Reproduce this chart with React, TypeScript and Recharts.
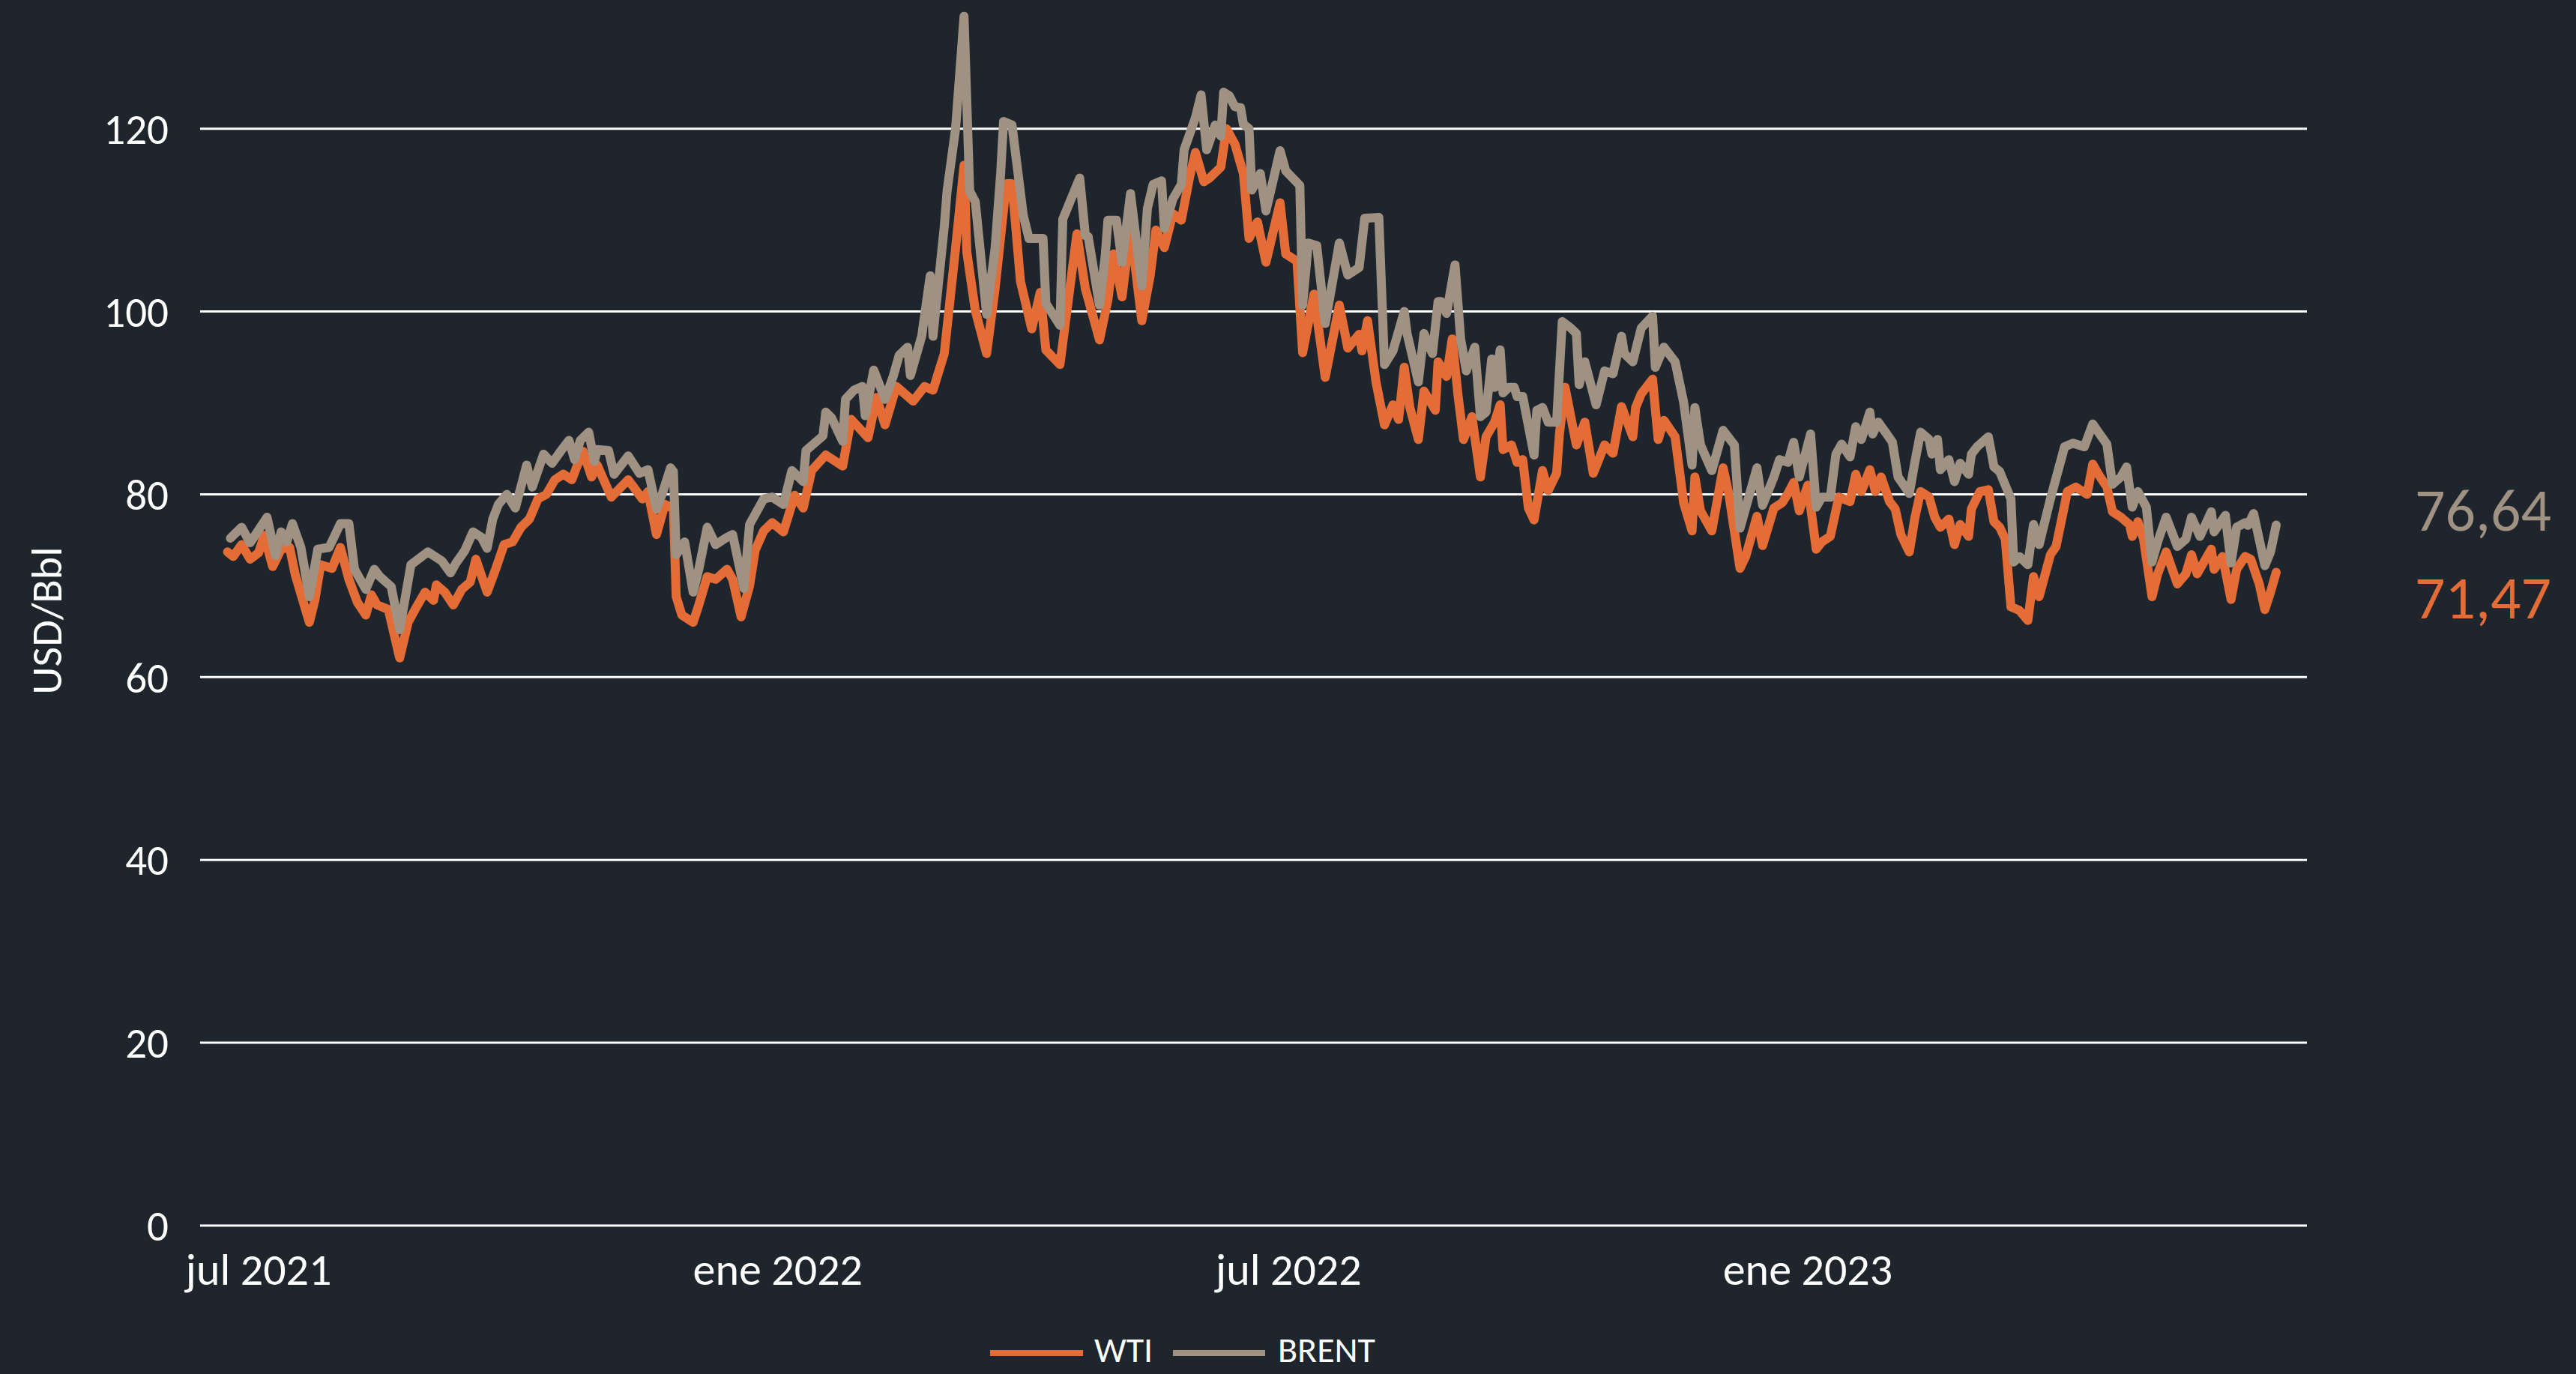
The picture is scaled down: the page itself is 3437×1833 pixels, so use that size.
import React from 'react';
import { LineChart, Line, XAxis, YAxis, CartesianGrid } from 'recharts';

const FONT = "Carlito, Lato, 'Open Sans', sans-serif";
const BG = '#1e252d';
const WTI_COLOR = '#e46c36';
const BRENT_COLOR = '#a09282';

const seriesNames = ['WTI', 'BRENT'];
const yTitle = 'USD/Bbl';
const yTicks = [0, 20, 40, 60, 80, 100, 120];
const xTickDates = ['2021-07-01', '2022-01-01', '2022-07-01', '2023-01-01'];
const xTickLabels = ['jul 2021', 'ene 2022', 'jul 2022', 'ene 2023'];

const wti: [string, number][] = [
  ['2021-06-20', 73.7], ['2021-06-22', 73.2], ['2021-06-25', 74.5], ['2021-06-28', 72.9], ['2021-07-01', 73.6],
  ['2021-07-03', 75.5], ['2021-07-06', 72.1], ['2021-07-09', 74.0], ['2021-07-12', 74.2], ['2021-07-14', 71.2],
  ['2021-07-19', 66.0], ['2021-07-21', 68.5], ['2021-07-23', 72.3], ['2021-07-27', 71.9], ['2021-07-30', 74.2],
  ['2021-08-02', 70.7], ['2021-08-05', 68.2], ['2021-08-08', 66.8], ['2021-08-10', 69.0], ['2021-08-12', 67.9],
  ['2021-08-16', 67.4], ['2021-08-20', 62.1], ['2021-08-23', 66.0], ['2021-08-26', 67.7], ['2021-08-29', 69.3],
  ['2021-09-01', 68.4], ['2021-09-02', 70.1], ['2021-09-05', 69.3], ['2021-09-08', 67.9], ['2021-09-11', 69.6],
  ['2021-09-14', 70.4], ['2021-09-16', 72.9], ['2021-09-20', 69.3], ['2021-09-23', 71.8], ['2021-09-26', 74.5],
  ['2021-09-29', 74.8], ['2021-10-02', 76.4], ['2021-10-05', 77.3], ['2021-10-08', 79.5], ['2021-10-11', 80.0],
  ['2021-10-14', 81.6], ['2021-10-17', 82.2], ['2021-10-20', 81.6], ['2021-10-22', 83.2], ['2021-10-24', 84.7],
  ['2021-10-27', 81.9], ['2021-10-29', 83.2], ['2021-11-03', 79.7], ['2021-11-09', 81.6], ['2021-11-14', 79.5],
  ['2021-11-16', 80.3], ['2021-11-19', 75.6], ['2021-11-22', 78.9], ['2021-11-25', 78.5], ['2021-11-26', 68.8],
  ['2021-11-28', 66.8], ['2021-12-02', 66.0], ['2021-12-04', 67.9], ['2021-12-07', 71.0], ['2021-12-10', 70.7],
  ['2021-12-14', 71.8], ['2021-12-16', 70.7], ['2021-12-19', 66.6], ['2021-12-22', 70.0], ['2021-12-24', 73.9],
  ['2021-12-27', 76.0], ['2021-12-30', 76.9],
  ['2022-01-03', 75.9], ['2022-01-07', 79.9], ['2022-01-10', 78.5], ['2022-01-13', 82.6], ['2022-01-18', 84.3],
  ['2022-01-24', 83.1], ['2022-01-27', 88.2], ['2022-02-02', 86.2], ['2022-02-05', 90.6], ['2022-02-08', 87.6],
  ['2022-02-12', 91.8], ['2022-02-18', 90.2], ['2022-02-22', 91.8], ['2022-02-25', 91.4], ['2022-03-01', 95.4],
  ['2022-03-05', 106.9], ['2022-03-08', 116.0], ['2022-03-09', 106.5], ['2022-03-12', 100.1], ['2022-03-16', 95.4],
  ['2022-03-19', 102.5], ['2022-03-23', 114.0], ['2022-03-25', 114.0], ['2022-03-28', 103.3], ['2022-04-01', 98.1],
  ['2022-04-04', 102.1], ['2022-04-06', 95.8], ['2022-04-11', 94.2], ['2022-04-17', 108.5], ['2022-04-20', 102.5],
  ['2022-04-25', 96.9], ['2022-04-28', 101.3], ['2022-04-30', 106.3], ['2022-05-03', 101.6], ['2022-05-06', 109.2],
  ['2022-05-10', 99.0], ['2022-05-13', 104.0], ['2022-05-15', 108.9], ['2022-05-18', 107.0], ['2022-05-21', 110.7],
  ['2022-05-24', 110.0], ['2022-05-27', 114.8], ['2022-05-29', 117.4], ['2022-06-01', 114.2], ['2022-06-03', 114.6],
  ['2022-06-07', 115.8], ['2022-06-09', 120.0], ['2022-06-12', 118.3], ['2022-06-15', 115.1], ['2022-06-17', 108.0],
  ['2022-06-20', 109.8], ['2022-06-23', 105.4], ['2022-06-28', 111.9], ['2022-06-30', 106.3], ['2022-07-04', 105.5],
  ['2022-07-06', 95.5], ['2022-07-10', 101.9], ['2022-07-14', 92.8], ['2022-07-19', 100.7], ['2022-07-22', 96.0],
  ['2022-07-26', 97.5], ['2022-07-27', 95.7], ['2022-07-29', 99.0], ['2022-08-01', 92.3], ['2022-08-04', 87.6],
  ['2022-08-07', 89.8], ['2022-08-09', 88.2], ['2022-08-11', 93.9], ['2022-08-13', 89.5], ['2022-08-16', 86.0],
  ['2022-08-18', 91.3], ['2022-08-22', 89.2], ['2022-08-23', 94.5], ['2022-08-26', 92.9], ['2022-08-28', 97.0],
  ['2022-08-30', 91.0], ['2022-09-01', 86.0], ['2022-09-04', 88.5], ['2022-09-07', 81.9], ['2022-09-09', 86.3],
  ['2022-09-12', 87.9], ['2022-09-14', 89.8], ['2022-09-15', 84.9], ['2022-09-18', 85.4], ['2022-09-20', 83.5],
  ['2022-09-22', 83.8], ['2022-09-24', 78.5], ['2022-09-26', 77.2], ['2022-09-29', 82.6], ['2022-10-01', 80.4],
  ['2022-10-04', 82.3], ['2022-10-05', 86.6], ['2022-10-07', 91.7], ['2022-10-11', 85.4], ['2022-10-14', 87.9],
  ['2022-10-17', 82.3], ['2022-10-21', 85.4], ['2022-10-24', 84.5], ['2022-10-27', 89.6], ['2022-10-31', 86.3],
  ['2022-11-01', 89.5], ['2022-11-03', 91.0], ['2022-11-07', 92.6], ['2022-11-09', 86.0], ['2022-11-11', 88.1],
  ['2022-11-15', 86.3], ['2022-11-18', 79.1], ['2022-11-21', 76.0], ['2022-11-22', 81.9], ['2022-11-24', 78.2],
  ['2022-11-28', 76.0], ['2022-12-02', 82.9], ['2022-12-04', 80.1], ['2022-12-06', 76.0], ['2022-12-08', 71.9],
  ['2022-12-10', 73.2], ['2022-12-14', 77.6], ['2022-12-16', 74.4], ['2022-12-20', 78.5], ['2022-12-23', 79.1],
  ['2022-12-25', 80.1], ['2022-12-27', 81.3], ['2022-12-29', 78.2],
  ['2023-01-01', 81.0], ['2023-01-04', 74.0], ['2023-01-06', 74.8], ['2023-01-09', 75.4], ['2023-01-12', 79.7],
  ['2023-01-16', 79.2], ['2023-01-18', 82.2], ['2023-01-20', 80.3], ['2023-01-23', 82.7], ['2023-01-25', 80.3],
  ['2023-01-27', 81.9], ['2023-01-30', 79.2], ['2023-02-01', 78.4], ['2023-02-03', 75.6], ['2023-02-06', 73.7],
  ['2023-02-08', 77.5], ['2023-02-10', 80.3], ['2023-02-13', 79.7], ['2023-02-15', 77.5], ['2023-02-17', 76.4],
  ['2023-02-20', 77.3], ['2023-02-22', 74.5], ['2023-02-24', 76.7], ['2023-02-27', 75.4], ['2023-02-28', 78.4],
  ['2023-03-03', 80.3], ['2023-03-06', 80.5], ['2023-03-08', 77.0], ['2023-03-10', 76.4], ['2023-03-12', 75.1],
  ['2023-03-14', 67.7], ['2023-03-17', 67.3], ['2023-03-20', 66.2], ['2023-03-22', 71.0], ['2023-03-24', 68.8],
  ['2023-03-28', 73.4], ['2023-03-30', 74.3], ['2023-04-03', 80.3], ['2023-04-06', 80.8], ['2023-04-10', 80.0],
  ['2023-04-12', 83.3], ['2023-04-14', 82.2], ['2023-04-17', 80.8], ['2023-04-19', 78.1], ['2023-04-22', 77.5],
  ['2023-04-25', 76.7], ['2023-04-26', 75.4], ['2023-04-28', 77.0], ['2023-04-30', 75.1], ['2023-05-03', 68.8],
  ['2023-05-05', 71.3], ['2023-05-08', 73.7], ['2023-05-12', 70.2], ['2023-05-15', 71.3], ['2023-05-17', 73.4],
  ['2023-05-19', 71.3], ['2023-05-24', 74.0], ['2023-05-25', 71.8], ['2023-05-28', 73.2], ['2023-05-31', 68.5],
  ['2023-06-02', 71.8], ['2023-06-05', 73.2], ['2023-06-07', 72.9], ['2023-06-10', 70.2], ['2023-06-12', 67.4],
  ['2023-06-14', 69.3], ['2023-06-16', 71.47],
];

const brent: [string, number][] = [
  ['2021-06-21', 75.2], ['2021-06-25', 76.4], ['2021-06-28', 74.7], ['2021-07-04', 77.5], ['2021-07-07', 73.3],
  ['2021-07-09', 75.9], ['2021-07-11', 74.8], ['2021-07-13', 76.8], ['2021-07-16', 74.2], ['2021-07-19', 68.8],
  ['2021-07-22', 74.0], ['2021-07-26', 74.2], ['2021-07-30', 76.8], ['2021-08-02', 76.8], ['2021-08-04', 71.8],
  ['2021-08-08', 69.6], ['2021-08-11', 71.8], ['2021-08-13', 71.0], ['2021-08-17', 69.9], ['2021-08-20', 65.2],
  ['2021-08-24', 72.3], ['2021-08-30', 73.7], ['2021-09-04', 72.7], ['2021-09-07', 71.4], ['2021-09-09', 72.5],
  ['2021-09-12', 73.8], ['2021-09-15', 75.9], ['2021-09-18', 75.3], ['2021-09-20', 74.1], ['2021-09-22', 77.3],
  ['2021-09-24', 78.9], ['2021-09-27', 80.0], ['2021-09-30', 78.5], ['2021-10-04', 83.2], ['2021-10-06', 80.8],
  ['2021-10-10', 84.4], ['2021-10-13', 83.4], ['2021-10-16', 84.7], ['2021-10-19', 85.9], ['2021-10-21', 83.8],
  ['2021-10-23', 85.9], ['2021-10-26', 86.8], ['2021-10-28', 83.6], ['2021-10-29', 84.9], ['2021-11-02', 84.8],
  ['2021-11-04', 82.2], ['2021-11-09', 84.2], ['2021-11-13', 82.3], ['2021-11-16', 82.7], ['2021-11-19', 78.4],
  ['2021-11-21', 80.0], ['2021-11-24', 82.9], ['2021-11-25', 82.5], ['2021-11-26', 73.4], ['2021-11-29', 74.8],
  ['2021-12-02', 69.3], ['2021-12-04', 71.8], ['2021-12-07', 76.4], ['2021-12-10', 74.5], ['2021-12-14', 75.3],
  ['2021-12-16', 75.6], ['2021-12-20', 69.7], ['2021-12-22', 76.7], ['2021-12-27', 79.5], ['2021-12-30', 79.7],
  ['2022-01-03', 78.9], ['2022-01-06', 82.6], ['2022-01-10', 81.4], ['2022-01-11', 84.8], ['2022-01-17', 86.4],
  ['2022-01-18', 89.0], ['2022-01-20', 88.4], ['2022-01-24', 85.8], ['2022-01-25', 90.4], ['2022-01-28', 91.4],
  ['2022-01-31', 91.8], ['2022-02-01', 88.6], ['2022-02-04', 93.6], ['2022-02-08', 90.4], ['2022-02-11', 93.0],
  ['2022-02-13', 95.2], ['2022-02-16', 96.1], ['2022-02-17', 93.0], ['2022-02-21', 97.3], ['2022-02-24', 103.9],
  ['2022-02-25', 97.3], ['2022-03-01', 109.3], ['2022-03-02', 113.2], ['2022-03-05', 120.0], ['2022-03-08', 132.3],
  ['2022-03-10', 113.2], ['2022-03-12', 112.0], ['2022-03-16', 99.7], ['2022-03-19', 106.9], ['2022-03-21', 115.2],
  ['2022-03-22', 120.8], ['2022-03-25', 120.4], ['2022-03-29', 110.5], ['2022-03-31', 108.0], ['2022-04-05', 108.0],
  ['2022-04-06', 100.9], ['2022-04-11', 98.5], ['2022-04-12', 110.1], ['2022-04-18', 114.6], ['2022-04-20', 108.3],
  ['2022-04-21', 108.2], ['2022-04-25', 100.7], ['2022-04-27', 106.0], ['2022-04-28', 110.0], ['2022-05-01', 110.0],
  ['2022-05-03', 105.4], ['2022-05-06', 112.9], ['2022-05-10', 102.8], ['2022-05-12', 111.3], ['2022-05-14', 113.9],
  ['2022-05-17', 114.3], ['2022-05-18', 109.1], ['2022-05-21', 112.3], ['2022-05-24', 113.9], ['2022-05-25', 117.7],
  ['2022-05-29', 121.2], ['2022-05-31', 123.7], ['2022-06-02', 117.7], ['2022-06-05', 120.4], ['2022-06-07', 119.2],
  ['2022-06-08', 124.0], ['2022-06-10', 123.6], ['2022-06-12', 122.4], ['2022-06-14', 122.3], ['2022-06-15', 120.5],
  ['2022-06-17', 120.0], ['2022-06-18', 113.3], ['2022-06-21', 115.1], ['2022-06-23', 111.0], ['2022-06-28', 117.6],
  ['2022-06-30', 115.4], ['2022-07-05', 113.8], ['2022-07-06', 100.7], ['2022-07-08', 107.5], ['2022-07-11', 107.2],
  ['2022-07-14', 98.7], ['2022-07-19', 107.5], ['2022-07-22', 104.0], ['2022-07-26', 104.8], ['2022-07-28', 110.2],
  ['2022-08-02', 110.3], ['2022-08-04', 94.2], ['2022-08-07', 95.7], ['2022-08-11', 100.0], ['2022-08-12', 97.6],
  ['2022-08-16', 92.3], ['2022-08-18', 97.6], ['2022-08-21', 95.4], ['2022-08-23', 101.1], ['2022-08-24', 101.1],
  ['2022-08-26', 99.8], ['2022-08-29', 105.1], ['2022-08-31', 97.0], ['2022-09-02', 93.5], ['2022-09-05', 96.1],
  ['2022-09-07', 88.5], ['2022-09-09', 89.0], ['2022-09-11', 94.8], ['2022-09-12', 91.7], ['2022-09-14', 95.8],
  ['2022-09-15', 91.1], ['2022-09-17', 91.7], ['2022-09-19', 91.7], ['2022-09-20', 90.7], ['2022-09-22', 90.7],
  ['2022-09-26', 84.3], ['2022-09-27', 89.2], ['2022-09-29', 89.5], ['2022-10-01', 87.9], ['2022-10-04', 87.9],
  ['2022-10-06', 98.9], ['2022-10-09', 98.2], ['2022-10-11', 97.6], ['2022-10-12', 92.0], ['2022-10-14', 94.5],
  ['2022-10-18', 89.8], ['2022-10-21', 93.5], ['2022-10-24', 93.2], ['2022-10-27', 97.3], ['2022-10-28', 95.4],
  ['2022-10-31', 94.5], ['2022-11-03', 98.2], ['2022-11-07', 99.5], ['2022-11-08', 93.9], ['2022-11-11', 96.1],
  ['2022-11-15', 94.5], ['2022-11-18', 90.1], ['2022-11-21', 83.2], ['2022-11-22', 89.5], ['2022-11-24', 85.4],
  ['2022-11-28', 82.6], ['2022-12-02', 87.0], ['2022-12-06', 85.4], ['2022-12-08', 76.3], ['2022-12-14', 82.9],
  ['2022-12-16', 78.8], ['2022-12-20', 81.9], ['2022-12-22', 83.8], ['2022-12-25', 83.5], ['2022-12-27', 85.7],
  ['2022-12-29', 81.9],
  ['2023-01-02', 86.6], ['2023-01-04', 78.6], ['2023-01-06', 79.7], ['2023-01-09', 79.7], ['2023-01-11', 84.4],
  ['2023-01-13', 85.5], ['2023-01-16', 84.1], ['2023-01-18', 87.4], ['2023-01-20', 86.0], ['2023-01-23', 89.0],
  ['2023-01-24', 86.6], ['2023-01-26', 87.9], ['2023-01-29', 86.6], ['2023-01-31', 85.7], ['2023-02-02', 81.9],
  ['2023-02-06', 80.1], ['2023-02-08', 83.6], ['2023-02-10', 86.8], ['2023-02-13', 86.0], ['2023-02-14', 84.4],
  ['2023-02-16', 86.0], ['2023-02-17', 82.7], ['2023-02-20', 83.8], ['2023-02-22', 81.4], ['2023-02-24', 83.4],
  ['2023-02-27', 82.2], ['2023-02-28', 84.4], ['2023-03-02', 85.2], ['2023-03-06', 86.3], ['2023-03-08', 83.0],
  ['2023-03-10', 82.5], ['2023-03-14', 79.5], ['2023-03-15', 72.6], ['2023-03-17', 73.2], ['2023-03-20', 72.3],
  ['2023-03-22', 76.7], ['2023-03-24', 74.5], ['2023-03-28', 79.5], ['2023-04-02', 85.2], ['2023-04-05', 85.6],
  ['2023-04-09', 85.2], ['2023-04-12', 87.7], ['2023-04-14', 86.8], ['2023-04-17', 85.5], ['2023-04-19', 81.1],
  ['2023-04-22', 81.9], ['2023-04-24', 83.0], ['2023-04-26', 78.6], ['2023-04-28', 80.3], ['2023-05-01', 78.6],
  ['2023-05-03', 72.6], ['2023-05-05', 74.8], ['2023-05-08', 77.5], ['2023-05-12', 74.3], ['2023-05-15', 75.1],
  ['2023-05-17', 77.5], ['2023-05-20', 75.4], ['2023-05-24', 78.1], ['2023-05-25', 75.9], ['2023-05-29', 77.7],
  ['2023-05-31', 72.5], ['2023-06-02', 76.4], ['2023-06-05', 76.9], ['2023-06-06', 76.6], ['2023-06-08', 77.9],
  ['2023-06-12', 72.2], ['2023-06-14', 73.7], ['2023-06-16', 76.64],
];

const ORIGIN = Date.parse('2021-07-01');
const toDay = (d: string) => (Date.parse(d) - ORIGIN) / 86400000;

const wtiData = wti.map(([d, v]) => ({ x: toDay(d), v }));
const brentData = brent.map(([d, v]) => ({ x: toDay(d), v }));
const xTicks = xTickDates.map(toDay);
const labelFor = (t: number) => {
  const i = xTicks.findIndex((k) => Math.abs(k - t) < 0.5);
  return i >= 0 ? xTickLabels[i] : '';
};
const fmt = (v: number) => v.toFixed(2).replace('.', ',');

const W = 3437;
const H = 1833;

export default function App() {
  const lastWti = wti[wti.length - 1][1];
  const lastBrent = brent[brent.length - 1][1];
  return (
    <div style={{ position: 'absolute', left: 0, top: 0, width: W, height: H, background: BG, overflow: 'hidden' }}>
      <LineChart width={W} height={H} margin={{ top: 1, right: 359, bottom: 0, left: 0 }}>
        <CartesianGrid
          horizontal
          vertical={false}
          horizontalValues={yTicks}
          syncWithTicks={false}
          stroke="#ffffff"
          strokeWidth={3}
        />
        <XAxis
          type="number"
          dataKey="x"
          domain={[-20.717, 725.9]}
          allowDataOverflow
          ticks={xTicks}
          interval={0}
          tickFormatter={labelFor}
          axisLine={false}
          tickLine={false}
          tickSize={0}
          tickMargin={36}
          height={198}
          tick={{ fill: '#ffffff', fontSize: 60, fontFamily: FONT }}
        />
        <YAxis
          type="number"
          domain={[0, 134]}
          allowDataOverflow
          ticks={yTicks}
          interval={0}
          axisLine={false}
          tickLine={false}
          tickSize={0}
          tickMargin={42}
          width={267}
          tick={{ fill: '#ffffff', fontSize: 57, fontFamily: FONT }}
        />
        <Line
          data={wtiData}
          dataKey="v"
          name={seriesNames[0]}
          type="linear"
          stroke={WTI_COLOR}
          strokeWidth={12}
          strokeLinejoin="round"
          strokeLinecap="round"
          dot={false}
          activeDot={false}
          isAnimationActive={false}
        />
        <Line
          data={brentData}
          dataKey="v"
          name={seriesNames[1]}
          type="linear"
          stroke={BRENT_COLOR}
          strokeWidth={12}
          strokeLinejoin="round"
          strokeLinecap="round"
          dot={false}
          activeDot={false}
          isAnimationActive={false}
        />
      </LineChart>
      <svg width={W} height={H} style={{ position: 'absolute', left: 0, top: 0, pointerEvents: 'none' }}>
        <text
          transform="rotate(-90)"
          x={-828}
          y={82}
          textAnchor="middle"
          fontSize={58}
          fontFamily={FONT}
          fill="#ffffff"
        >
          {yTitle}
        </text>
        <text x={3222} y={708} fontSize={80} fontFamily={FONT} fill={BRENT_COLOR}>
          {fmt(lastBrent)}
        </text>
        <text x={3222} y={825} fontSize={80} fontFamily={FONT} fill={WTI_COLOR}>
          {fmt(lastWti)}
        </text>
        <line x1={1321} x2={1445} y1={1805} y2={1805} stroke={WTI_COLOR} strokeWidth={8} />
        <text x={1460} y={1817} fontSize={48} fontFamily={FONT} fill="#ffffff">
          {seriesNames[0]}
        </text>
        <line x1={1565} x2={1688} y1={1805} y2={1805} stroke={BRENT_COLOR} strokeWidth={8} />
        <text x={1705} y={1817} fontSize={48} fontFamily={FONT} fill="#ffffff">
          {seriesNames[1]}
        </text>
      </svg>
    </div>
  );
}
